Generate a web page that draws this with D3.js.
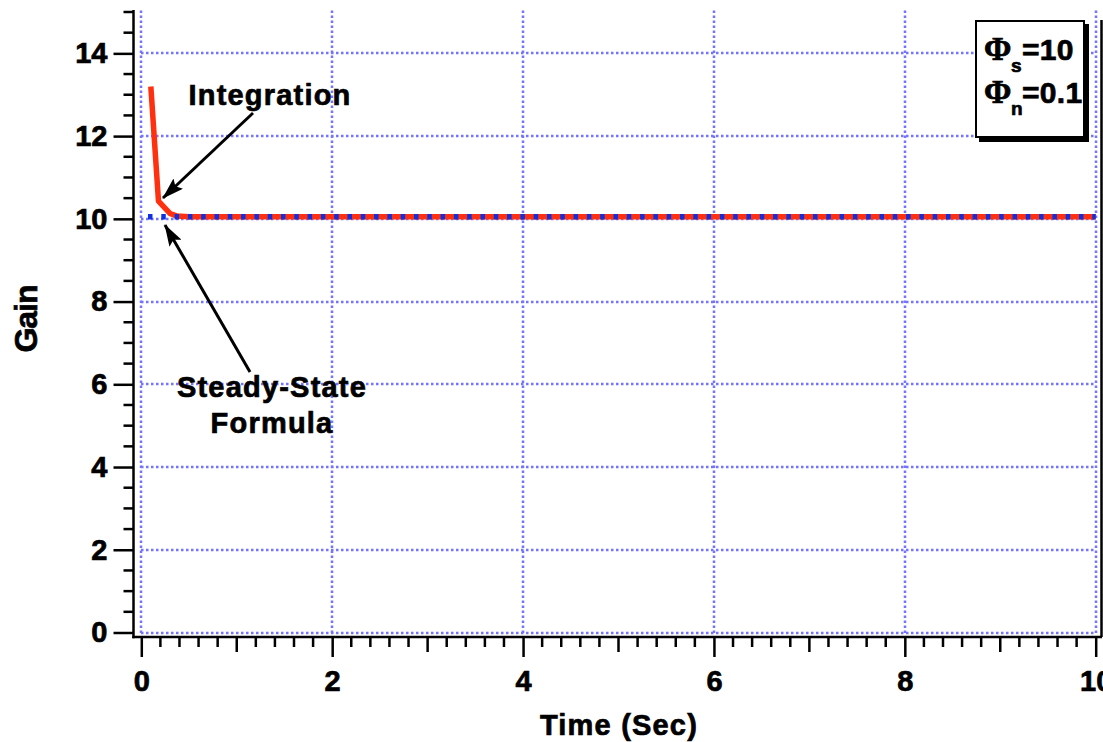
<!DOCTYPE html>
<html>
<head>
<meta charset="utf-8">
<script src="https://cdn.jsdelivr.net/npm/d3@7"></script>
<style>
  html, body { margin: 0; padding: 0; background: #fff; }
  svg { display: block; }
  text { font-family: "Liberation Sans", Arial, Helvetica, sans-serif; font-weight: bold; fill: #000;
         stroke: #000; stroke-width: 0.7px; }
</style>
</head>
<body>
<svg id="chart" width="1103" height="742"></svg>
<script>
// Kalman gain: numerical integration of the Riccati equation vs. steady-state formula
const integrationTime = [0.1, 0.18, 0.3, 0.37, 0.5, 10];
const integrationGain = [13.2, 10.43, 10.13, 10.07, 10.05, 10.05];
const steadyTime = [0.07, 10];
const steadyGain = [10.05, 10.05];

const xTicks = [0, 2, 4, 6, 8, 10];
const yTicks = [0, 2, 4, 6, 8, 10, 12, 14];
const xDomain = [0, 10];
const yDomain = [0, 15];

const svg = d3.select("#chart");

const x = d3.scaleLinear().domain(xDomain).range([141.3, 1095.7]);
const y = d3.scaleLinear().domain(yDomain).range([632.5, 12]);

const gridColor = "#7474ff";

// dotted grid, snapped to whole pixels
const grid = svg.append("g");
grid.selectAll("line.gx").data(xTicks).join("line")
  .attr("x1", d => Math.round(x(d))).attr("x2", d => Math.round(x(d)))
  .attr("y1", Math.round(y(0))).attr("y2", 10)
  .attr("stroke", gridColor).attr("stroke-width", 2.5).attr("stroke-dasharray", "2.5,2.5");
grid.selectAll("line.gy").data(yTicks).join("line")
  .attr("x1", Math.round(x(0))).attr("x2", Math.round(x(10)))
  .attr("y1", d => Math.round(y(d))).attr("y2", d => Math.round(y(d)))
  .attr("stroke", gridColor).attr("stroke-width", 2.5).attr("stroke-dasharray", "2.5,2.5");

// axes, offset from the plot area
const yAxisX = 133.5;
const xAxisY = 637;

const yMinor = d3.range(0, 15.01, 0.5).filter(v => Math.abs(v % 2) > 1e-6);
const yAxis = svg.append("g").attr("transform", `translate(${yAxisX},0)`);
yAxis.call(d3.axisLeft(y).tickValues(yTicks).tickSize(20).tickSizeOuter(0).tickPadding(6)
  .tickFormat(d3.format("d")));
yAxis.select(".domain").remove();
yAxis.selectAll(".tick line").attr("stroke-width", 2.5);
yAxis.selectAll(".tick text")
  .style("font-size", "29px").style("font-family", "'Liberation Sans', Arial, sans-serif")
  .style("font-weight", "bold");
yAxis.selectAll("line.minor").data(yMinor).join("line").attr("class", "minor")
  .attr("x1", -10).attr("x2", 0).attr("y1", d => y(d)).attr("y2", d => y(d))
  .attr("stroke", "#000").attr("stroke-width", 2.5);
svg.append("line").attr("x1", yAxisX).attr("x2", yAxisX).attr("y1", 10).attr("y2", xAxisY + 1.25)
  .attr("stroke", "#000").attr("stroke-width", 2.5);

const xMinor = d3.range(0, 10.001, 0.2).filter(v => Math.abs(v - Math.round(v)) > 1e-6);
const xMid = [1, 3, 5, 7, 9];
const xAxis = svg.append("g").attr("transform", `translate(0,${xAxisY})`);
xAxis.call(d3.axisBottom(x).tickValues(xTicks).tickSize(20).tickSizeOuter(0).tickPadding(13)
  .tickFormat(d3.format("d")));
xAxis.select(".domain").remove();
xAxis.selectAll(".tick line").attr("stroke-width", 2.5);
xAxis.selectAll(".tick text")
  .style("font-size", "29px").style("font-family", "'Liberation Sans', Arial, sans-serif")
  .style("font-weight", "bold");
xAxis.selectAll("line.minor").data(xMinor).join("line").attr("class", "minor")
  .attr("x1", d => x(d)).attr("x2", d => x(d)).attr("y1", 0).attr("y2", 10)
  .attr("stroke", "#000").attr("stroke-width", 2.5);
xAxis.selectAll("line.mid").data(xMid).join("line").attr("class", "mid")
  .attr("x1", d => x(d)).attr("x2", d => x(d)).attr("y1", 0).attr("y2", 15)
  .attr("stroke", "#000").attr("stroke-width", 2.5);
svg.append("line").attr("x1", yAxisX - 1.25).attr("x2", 1102).attr("y1", xAxisY).attr("y2", xAxisY)
  .attr("stroke", "#000").attr("stroke-width", 2.5);
// right-hand frame edge
svg.append("line").attr("x1", 1101.5).attr("x2", 1101.5).attr("y1", 20).attr("y2", xAxisY)
  .attr("stroke", "#000").attr("stroke-width", 2.5);

// curves
const line = d3.line().x(d => x(d[0])).y(d => y(d[1]));
const integration = integrationTime.map((t, i) => [t, integrationGain[i]]);
const steady = steadyTime.map((t, i) => [t, steadyGain[i]]);

svg.append("path").datum(integration).attr("d", line)
  .attr("fill", "none").attr("stroke", "#ff3010").attr("stroke-width", 5.5)
  .attr("stroke-linejoin", "round");
svg.append("path").datum(steady).attr("d", line)
  .attr("fill", "none").attr("stroke", "#1030e0").attr("stroke-width", 5.5)
  .attr("stroke-dasharray", "4.5,8.8");

// annotation arrows
const defs = svg.append("defs");
defs.append("marker").attr("id", "head").attr("viewBox", "0 0 22 14")
  .attr("refX", 21).attr("refY", 7).attr("markerWidth", 22).attr("markerHeight", 14)
  .attr("markerUnits", "userSpaceOnUse").attr("orient", "auto")
  .append("path").attr("d", "M0,0 L22,7 L0,14 L4,7 Z").attr("fill", "#000");

svg.append("line").attr("x1", 253).attr("y1", 113).attr("x2", 163).attr("y2", 198)
  .attr("stroke", "#000").attr("stroke-width", 3).attr("marker-end", "url(#head)");
svg.append("line").attr("x1", 250).attr("y1", 372).attr("x2", 165).attr("y2", 225)
  .attr("stroke", "#000").attr("stroke-width", 3).attr("marker-end", "url(#head)");

const label = (txt, cx, by, size, spacing) => svg.append("text")
  .attr("x", cx).attr("y", by).attr("text-anchor", "middle")
  .style("font-size", size + "px").style("letter-spacing", spacing + "px").text(txt);

label("Integration", 270, 105, 29, 1.2);
label("Steady-State", 272, 397, 29, 1.2);
label("Formula", 272, 433, 29, 1.2);
label("Time (Sec)", 619, 735, 29, 1.2);

svg.append("text").attr("transform", "translate(37,319) rotate(-90)")
  .attr("text-anchor", "middle").style("font-size", "32px").style("letter-spacing", "-1px")
  .text("Gain");

// parameter box with drop shadow
svg.append("rect").attr("x", 979).attr("y", 24).attr("width", 110).attr("height", 118).attr("fill", "#000");
svg.append("rect").attr("x", 976).attr("y", 21).attr("width", 108).attr("height", 116)
  .attr("fill", "#fff").attr("stroke", "#000").attr("stroke-width", 2);

const params = [
  { sym: "\u03A6", sub: "s", val: "=10", base: 60 },
  { sym: "\u03A6", sub: "n", val: "=0.1", base: 103 }
];
params.forEach(p => {
  svg.append("text").attr("x", 984).attr("y", p.base)
    .style("font-family", "'Liberation Serif', 'Times New Roman', serif").style("font-size", "33px")
    .text(p.sym);
  svg.append("text").attr("x", 1011).attr("y", p.base + 12).style("font-size", "19px").text(p.sub);
  svg.append("text").attr("x", 1022).attr("y", p.base).style("font-size", "30px")
    .style("letter-spacing", "0.3px").text(p.val);
});
</script>
</body>
</html>
